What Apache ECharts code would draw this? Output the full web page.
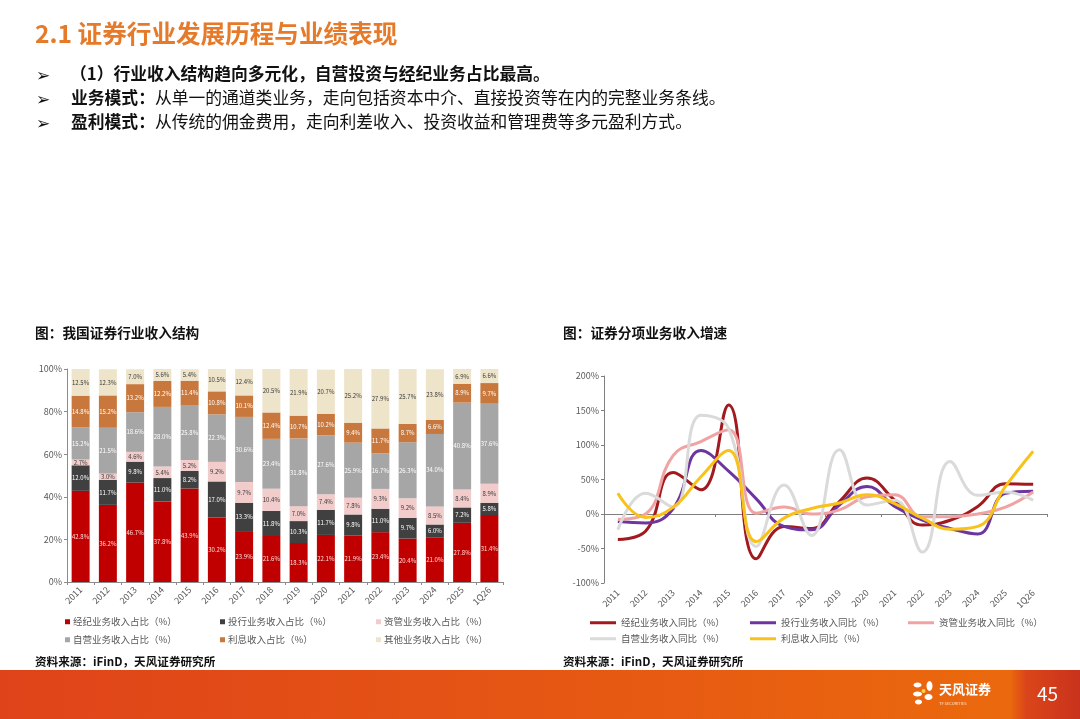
<!DOCTYPE html>
<html>
<head>
<meta charset="utf-8">
<script src="https://cdn.jsdelivr.net/npm/echarts@6/dist/echarts.min.js"></script>
<style>
html,body{margin:0;padding:0;background:#fff}
#main{width:1080px;height:719px}
</style>
</head>
<body>
<div id="main"></div>
<script>
// 类目
var years = ['2011','2012','2013','2014','2015','2016','2017','2018','2019','2020','2021','2022','2023','2024','2025','1Q26'];

// 左图：收入结构占比（%）
var brokerShare   = [42.8, 36.2, 46.7, 37.8, 43.9, 30.2, 23.9, 21.6, 18.3, 22.1, 21.9, 23.4, 20.4, 21.0, 27.8, 31.4];
var ibankShare    = [12.0, 11.7, 9.8, 11.0, 8.2, 17.0, 13.3, 11.8, 10.3, 11.7, 9.8, 11.0, 9.7, 6.0, 7.2, 5.8];
var assetShare    = [2.7, 3.0, 4.6, 5.4, 5.2, 9.2, 9.7, 10.4, 7.0, 7.4, 7.8, 9.3, 9.2, 8.5, 8.4, 8.9];
var propShare     = [15.2, 21.5, 18.6, 28.0, 25.8, 22.3, 30.6, 23.4, 31.8, 27.6, 25.9, 16.7, 26.3, 34.0, 40.8, 37.6];
var interestShare = [14.8, 15.2, 13.2, 12.2, 11.4, 10.8, 10.1, 12.4, 10.7, 10.2, 9.4, 11.7, 8.7, 6.6, 8.9, 9.7];
var otherShare    = [12.5, 12.3, 7.0, 5.6, 5.4, 10.5, 12.4, 20.5, 21.9, 20.7, 25.2, 27.9, 25.7, 23.8, 6.9, 6.6];

// 右图：分项收入同比（%）
var brokerYoY   = [-37, -25, 60, 35, 158, -65, -18, -21, 18, 52, 20, -16, -9, 11, 44, 43];
var ibankYoY    = [-11, -13, 8, 92, 62, 22, -18, -23, 13, 40, 11, -9, -21, -29, 30, 33];
var assetYoY    = [-8, 0, 85, 105, 122, 1, 10, 0, 6, 25, 28, -4, -4, 0, 10, 32];
var propYoY     = [-23, 30, 10, 143, 124, -47, 42, -31, 93, 13, 20, -55, 76, 27, 32, 20];
var interestYoY = [30, -5, 10, 54, 92, -40, -6, 8, 16, 28, 15, -6, -22, -18, 40, 91];

var leftTicks  = [0, 20, 40, 60, 80, 100];
var rightTicks = [-100, -50, 0, 50, 100, 150, 200];

var barNames  = ['经纪业务收入占比（%）','投行业务收入占比（%）','资管业务收入占比（%）','自营业务收入占比（%）','利息收入占比（%）','其他业务收入占比（%）'];
var lineNames = ['经纪业务收入同比（%）','投行业务收入同比（%）','资管业务收入同比（%）','自营业务收入同比（%）','利息收入同比（%）'];

var FONT = "'Noto Sans CJK SC', 'DejaVu Sans', sans-serif";
var barColors   = ['#C00000', '#404040', '#F2CBCB', '#A6A6A6', '#C8783C', '#EEE4CA'];
var labelColors = ['#FFD9D9', '#FFFFFF', '#3A3A3A', '#FFFFFF', '#FFFFFF', '#3A3A3A'];
var lineColors  = ['#A01A1F', '#6E35A0', '#F1A3A3', '#DADADA', '#F8C21A'];

var myChart = echarts.init(document.getElementById('main'));

var barData = [brokerShare, ibankShare, assetShare, propShare, interestShare, otherShare];
var lineData = [brokerYoY, ibankYoY, assetYoY, propYoY, interestYoY];

var series = [];
barData.forEach(function (d, i) {
    series.push({
        name: barNames[i],
        type: 'bar',
        stack: 'share',
        xAxisIndex: 0,
        yAxisIndex: 0,
        barCategoryGap: '34%',
        itemStyle: { color: barColors[i] },
        label: {
            show: true,
            position: 'inside',
            fontSize: 6,
            fontFamily: FONT,
            color: labelColors[i],
            formatter: function (p) { return p.value.toFixed(1) + '%'; }
        },
        data: d
    });
});
lineData.forEach(function (d, i) {
    series.push({
        name: lineNames[i],
        type: 'line',
        xAxisIndex: 1,
        yAxisIndex: 1,
        smooth: 0.45,
        showSymbol: false,
        lineStyle: { width: 3, color: lineColors[i] },
        itemStyle: { color: lineColors[i] },
        data: d
    });
});

// 图例位置
var barLegendPos = [[65, 617], [220, 617], [376, 617], [65, 635], [220, 635], [376, 635]];
var lineLegendPos = [[590, 618], [750, 618], [908, 618], [590, 634], [750, 634]];
var legends = [];
barNames.forEach(function (n, i) {
    legends.push({
        data: [n], left: barLegendPos[i][0], top: barLegendPos[i][1],
        icon: 'rect', itemWidth: 5, itemHeight: 5, itemGap: 2, padding: 0,
        textStyle: { fontSize: 9.5, color: '#595959', fontFamily: FONT, padding: [0, 0, 0, -2] }
    });
});
lineNames.forEach(function (n, i) {
    legends.push({
        data: [n], left: lineLegendPos[i][0], top: lineLegendPos[i][1],
        icon: 'rect', itemWidth: 26, itemHeight: 3, itemGap: 2, padding: 0,
        textStyle: { fontSize: 9.5, color: '#595959', fontFamily: FONT }
    });
});

var axisLabelStyle = { fontSize: 9, color: '#595959', fontFamily: FONT };
var richLine = {
    b: { fontSize: 16.8, fontWeight: 'bold', fill: '#111', fontFamily: FONT },
    n: { fontSize: 16.8, fill: '#111', fontFamily: FONT }
};

var option = {
    animation: false,
    textStyle: { fontFamily: FONT },
    legend: legends,
    grid: [
        { left: 67, top: 369, width: 436, height: 213 },
        { left: 604, top: 376, width: 443, height: 207 }
    ],
    xAxis: [
        {
            gridIndex: 0, type: 'category', data: years,
            axisLine: { lineStyle: { color: '#8C8C8C' } },
            axisTick: { show: true, length: 3, lineStyle: { color: '#8C8C8C' } },
            axisLabel: Object.assign({ interval: 0, rotate: 45, margin: 6 }, axisLabelStyle)
        },
        {
            gridIndex: 1, type: 'category', data: years,
            axisLine: { onZero: true, lineStyle: { color: '#7F7F7F' } },
            axisTick: { show: true, length: 3, lineStyle: { color: '#7F7F7F' } },
            axisLabel: { show: false }
        },
        {
            gridIndex: 1, type: 'category', data: years, position: 'bottom',
            axisLine: { show: false, onZero: false },
            axisTick: { show: false },
            axisLabel: Object.assign({ interval: 0, rotate: 45, margin: 8 }, axisLabelStyle)
        }
    ],
    yAxis: [
        {
            gridIndex: 0, type: 'value',
            min: leftTicks[0], max: leftTicks[leftTicks.length - 1], interval: 20,
            axisLine: { show: true, lineStyle: { color: '#8C8C8C' } },
            axisTick: { show: true, length: 3, lineStyle: { color: '#8C8C8C' } },
            splitLine: { show: false },
            axisLabel: Object.assign({ formatter: '{value}%', margin: 5 }, axisLabelStyle)
        },
        {
            gridIndex: 1, type: 'value',
            min: rightTicks[0], max: rightTicks[rightTicks.length - 1], interval: 50,
            axisLine: { show: true, lineStyle: { color: '#7F7F7F' } },
            axisTick: { show: true, length: 3, lineStyle: { color: '#7F7F7F' } },
            splitLine: { show: false },
            axisLabel: Object.assign({ formatter: '{value}%', margin: 5 }, axisLabelStyle)
        }
    ],
    graphic: [
        // 页面标题
        { type: 'text', left: 35, top: 21, style: { text: '2.1 证券行业发展历程与业绩表现', font: 'bold 24.6px ' + FONT, fill: '#E57A2B' } },
        // 要点
        { type: 'text', left: 36, top: 66, style: { text: '➢', font: 'bold 17px ' + FONT, fill: '#111' } },
        { type: 'text', left: 36, top: 90, style: { text: '➢', font: 'bold 17px ' + FONT, fill: '#111' } },
        { type: 'text', left: 36, top: 114, style: { text: '➢', font: 'bold 17px ' + FONT, fill: '#111' } },
        { type: 'text', left: 70, top: 65, style: { text: '（1）行业收入结构趋向多元化，自营投资与经纪业务占比最高。', font: 'bold 16.8px ' + FONT, fill: '#111' } },
        { type: 'text', left: 71, top: 89, style: {
            text: '{b|业务模式：}{n|从单一的通道类业务，走向包括资本中介、直接投资等在内的完整业务条线。}', rich: richLine } },
        { type: 'text', left: 71, top: 113, style: {
            text: '{b|盈利模式：}{n|从传统的佣金费用，走向利差收入、投资收益和管理费等多元盈利方式。}', rich: richLine } },
        // 图标题
        { type: 'text', left: 35, top: 326, style: { text: '图：我国证券行业收入结构', font: 'bold 13.7px ' + FONT, fill: '#111' } },
        { type: 'text', left: 563, top: 326, style: { text: '图：证券分项业务收入增速', font: 'bold 13.7px ' + FONT, fill: '#111' } },
        // 资料来源
        { type: 'text', left: 35, top: 656, style: { text: '资料来源：iFinD，天风证券研究所', font: 'bold 11.6px ' + FONT, fill: '#111' } },
        { type: 'text', left: 563, top: 656, style: { text: '资料来源：iFinD，天风证券研究所', font: 'bold 11.6px ' + FONT, fill: '#111' } },
        // 底部色条
        { type: 'rect', left: 0, top: 670, shape: { width: 1080, height: 49 }, style: {
            fill: new echarts.graphic.LinearGradient(0, 0, 1, 0, [
                { offset: 0, color: '#DF431A' }, { offset: 0.6, color: '#E65A12' }, { offset: 1, color: '#EC6C0C' }]) } },
        { type: 'rect', left: 1012, top: 670, shape: { width: 68, height: 49 }, style: {
            fill: new echarts.graphic.LinearGradient(0, 0, 1, 0, [
                { offset: 0, color: '#E9640E' }, { offset: 0.2, color: '#DA461A' }, { offset: 1, color: '#C9321C' }]) } },
        { type: 'text', left: 1037, top: 684, style: { text: '45', font: '19px ' + FONT, fill: '#FFFFFF' } },
        // 标志
        { type: 'group', left: 913, top: 681, children: [
            { type: 'ellipse', shape: { cx: 5, cy: 4, rx: 4, ry: 2.5 }, style: { fill: '#fff' } },
            { type: 'ellipse', shape: { cx: 17, cy: 5, rx: 3, ry: 5 }, style: { fill: '#fff' } },
            { type: 'ellipse', shape: { cx: 5, cy: 13, rx: 4.5, ry: 2.5 }, style: { fill: '#fff' } },
            { type: 'ellipse', shape: { cx: 16, cy: 16, rx: 4, ry: 3 }, style: { fill: '#fff' } },
            { type: 'ellipse', shape: { cx: 6, cy: 21, rx: 3.5, ry: 2.5 }, style: { fill: '#fff' } },
            { type: 'circle', shape: { cx: 11, cy: 10, r: 2 }, style: { fill: '#FFD24A' } }
        ] },
        { type: 'text', left: 939, top: 683, style: { text: '天风证券', font: 'bold 13px ' + FONT, fill: '#FFFFFF' } },
        { type: 'text', left: 939, top: 701, style: { text: 'TF SECURITIES', font: '4px ' + FONT, fill: '#FFE6D0' } }
    ],
    series: series
};

myChart.setOption(option);
</script>
</body>
</html>
